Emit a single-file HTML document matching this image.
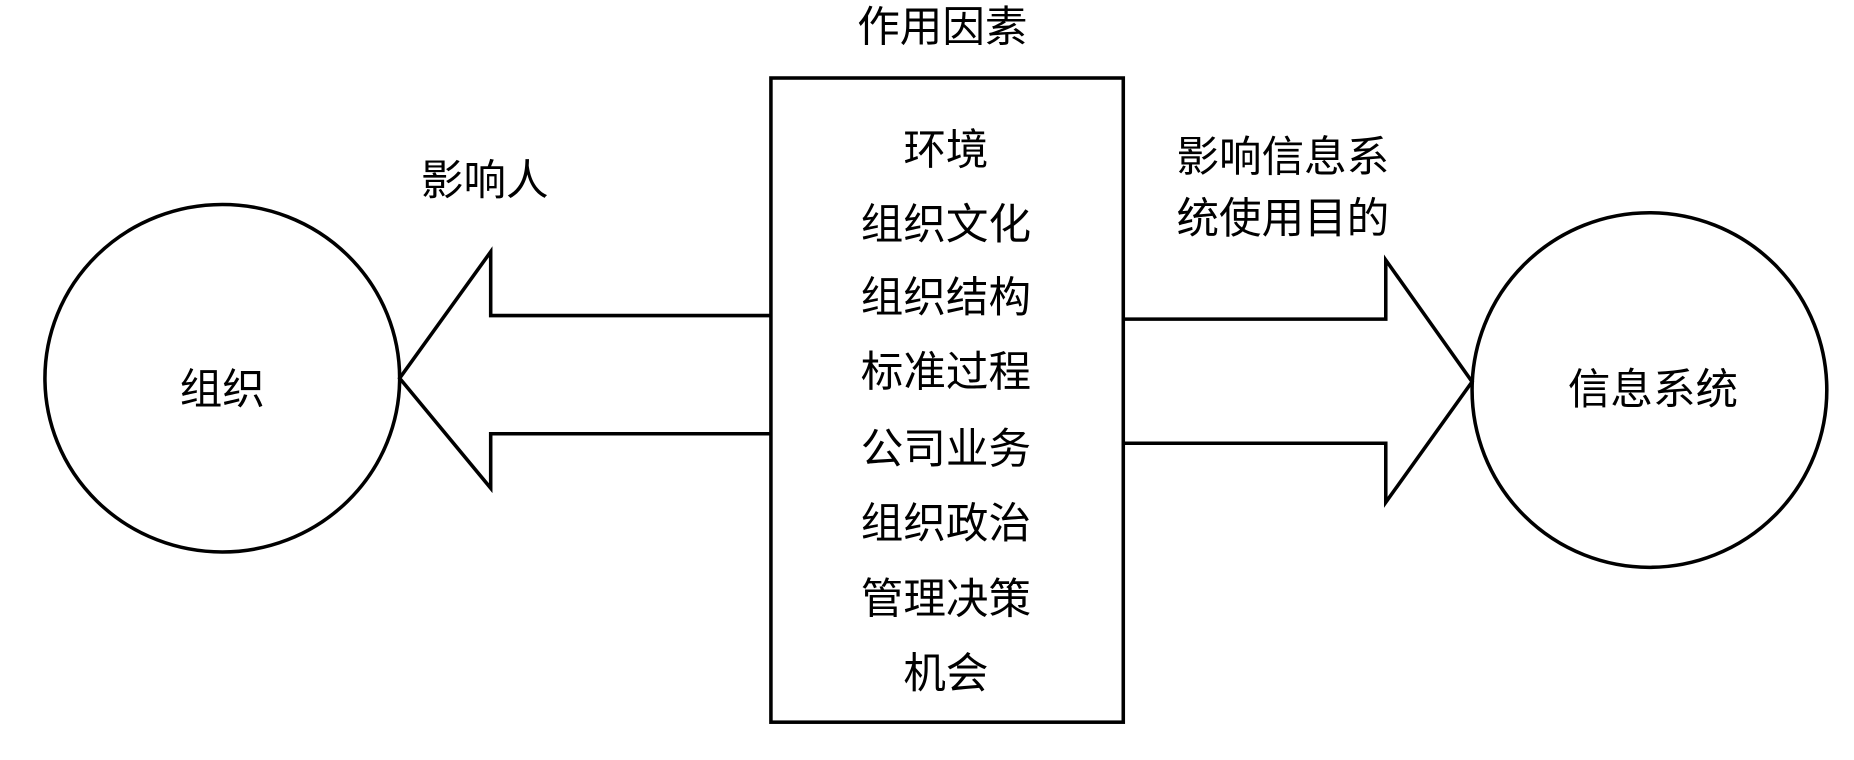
<!DOCTYPE html>
<html><head><meta charset="utf-8"><style>
html,body{margin:0;padding:0;background:#fff;width:1854px;height:760px;overflow:hidden}
svg{display:block}
text{font-family:"Liberation Sans","Noto Sans CJK SC",sans-serif;font-size:36px;fill:#000}
</style></head><body>
<svg width="1854" height="760" viewBox="0 0 1568 643" preserveAspectRatio="none" xmlns="http://www.w3.org/2000/svg">
<g fill="none" stroke="#000" stroke-width="3">
<rect x="652" y="66" width="298" height="545"/>
<ellipse cx="188" cy="320" rx="150" ry="147"/>
<ellipse cx="1395" cy="330" rx="150" ry="150"/>
<polyline points="652,267 415,267 415,213 338,320 415,413 415,367 652,367"/>
<polyline points="950,270 1172,270 1172,220 1245,323 1172,425 1172,375 950,375"/>
</g>
<g text-anchor="middle">
<text x="797" y="35">作用因素</text>
<text x="800" y="139">环境</text>
<text x="800" y="202">组织文化</text>
<text x="800" y="264">组织结构</text>
<text x="800" y="327">标准过程</text>
<text x="800" y="392">公司业务</text>
<text x="800" y="455">组织政治</text>
<text x="800" y="519">管理决策</text>
<text x="800" y="582">机会</text>
<text x="410" y="165">影响人</text>
<text x="1085" y="145">影响信息系</text>
<text x="1085" y="197">统使用目的</text>
<text x="188" y="342">组织</text>
<text x="1398" y="342">信息系统</text>
</g>
</svg>
</body></html>
